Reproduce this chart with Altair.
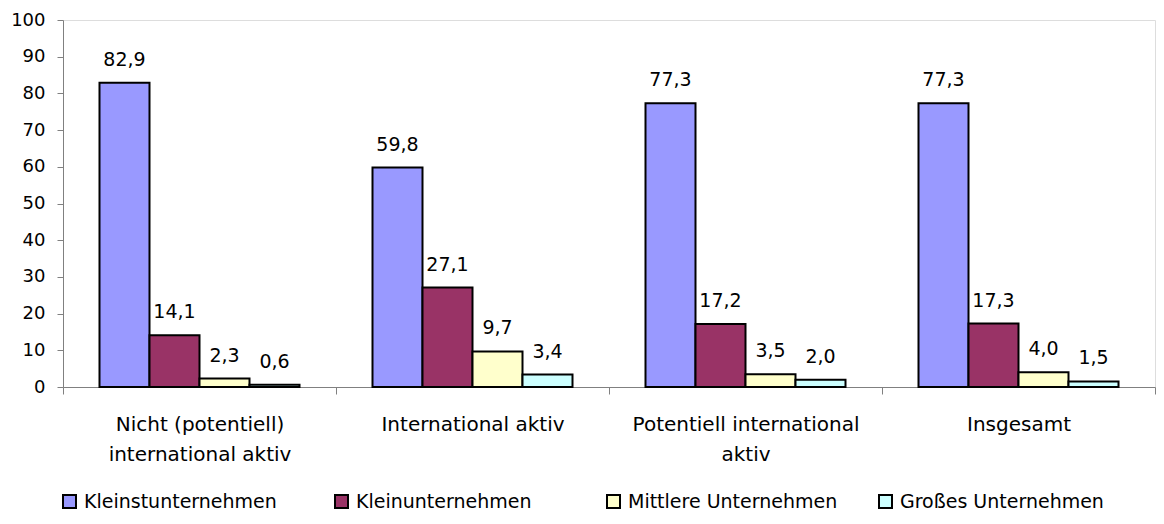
import altair as alt
import pandas as pd

categories = ["Nicht (potentiell)|international aktiv", "International aktiv",
              "Potentiell international|aktiv", "Insgesamt"]
series_names = ["Kleinstunternehmen", "Kleinunternehmen", "Mittlere Unternehmen", "Großes Unternehmen"]
kleinst = [82.9, 59.8, 77.3, 77.3]
klein = [14.1, 27.1, 17.2, 17.3]
mittlere = [2.3, 9.7, 3.5, 4.0]
gross = [0.6, 3.4, 2.0, 1.5]
colors = ["#9999FF", "#993366", "#FFFFCC", "#CCFFFF"]
y_ticks = [0, 10, 20, 30, 40, 50, 60, 70, 80, 90, 100]

rows = []
for s, vals in zip(series_names, [kleinst, klein, mittlere, gross]):
    for c, v in zip(categories, vals):
        rows.append({"Kategorie": c, "Groesse": s, "Wert": v})
df = pd.DataFrame(rows)

FONT = "DejaVu Sans"
AXIS_COLOR = "#808080"

base = alt.Chart(df).transform_calculate(
    label="replace(format(datum.Wert, '.1f'), '.', ',')"
).encode(
    x=alt.X(
        "Kategorie:N", sort=categories,
        scale=alt.Scale(paddingInner=0, paddingOuter=0),
        axis=alt.Axis(
            title=None, labelAngle=0, labelExpr="split(datum.label, '|')",
            tickBand="extent", tickSize=7, tickColor=AXIS_COLOR, domainColor=AXIS_COLOR,
            labelFontSize=20, labelLineHeight=30, labelPadding=20, labelColor="#000000",
            labelFont=FONT, grid=False, labelLimit=0,
        ),
    ),
    xOffset=alt.XOffset(
        "Groesse:N", sort=series_names,
        scale=alt.Scale(paddingInner=0, paddingOuter=0.73),
    ),
    y=alt.Y(
        "Wert:Q",
        scale=alt.Scale(domain=[0, 100], nice=False),
        axis=alt.Axis(
            title=None, values=y_ticks, grid=False, tickSize=6, tickColor=AXIS_COLOR,
            domainColor=AXIS_COLOR, labelFontSize=18, labelPadding=12, labelColor="#000000",
            labelFont=FONT,
        ),
    ),
)

bars = base.mark_bar(stroke="black", strokeWidth=2).encode(
    fill=alt.Fill(
        "Groesse:N", sort=series_names,
        scale=alt.Scale(domain=series_names, range=colors),
        legend=alt.Legend(
            title=None, orient="none", legendX=-3, legendY=472, direction="horizontal",
            columns=4, gridAlign="all", columnPadding=37, symbolType="square",
            symbolSize=169, symbolStrokeColor="black", symbolStrokeWidth=2,
            labelFontSize=19, labelFont=FONT, labelOffset=5, labelColor="#000000",
            labelLimit=0,
        ),
    )
)

texts = base.mark_text(
    baseline="alphabetic", dy=-17, fontSize=19, font=FONT, color="#000000"
).encode(text="label:N")

chart = (bars + texts).properties(
    width=1092, height=367,
    autosize=alt.AutoSizeParams(type="none"),
    padding={"left": 55, "top": 12, "right": 1, "bottom": 129},
).configure_view(stroke=None).configure(font=FONT)

chart.save("out.html", embed_options={"renderer": "svg", "actions": False})
